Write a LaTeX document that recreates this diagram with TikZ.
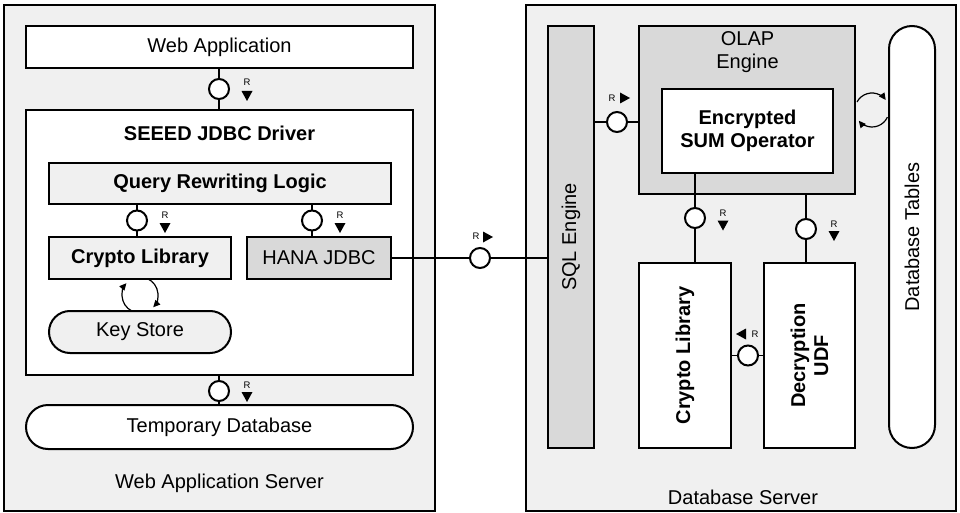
\documentclass[tikz,border=0pt]{standalone}
\usepackage{fontspec}
\setmainfont{Liberation Sans}
\usetikzlibrary{arrows.meta,calc,shapes.misc}
\pgfdeclarelayer{panel}
\pgfdeclarelayer{container}
\pgfdeclarelayer{under}
\pgfsetlayers{panel,container,under,main}
\definecolor{lightg}{HTML}{F0F0F0}
\definecolor{midg}{HTML}{D9D9D9}
\newcommand\mfont{\fontsize{20}{23}\selectfont}
\tikzset{
  box/.style={draw=black, line width=2pt, rectangle, inner sep=0pt, align=center, font=\mfont},
  boldtxt/.style={font=\mfont\bfseries},
  capsule/.style={box, rounded rectangle},
  iface/.style={circle, draw=black, line width=2pt, fill=white, minimum size=20pt, inner sep=0pt},
  conn/.style={line width=1.2pt},
  rlab/.style={font=\fontsize{9.5}{10}\selectfont, inner sep=0pt},
  cyc/.style={line width=1.2pt, -{Triangle[length=7pt,width=6.5pt]}},
  panelbox/.style={draw=black, line width=1.8pt, fill=lightg, inner sep=0pt},
  lbl/.style={font=\mfont, inner sep=0pt, align=center},
  tdown/.pic={\fill (-5.5,5) -- (5.5,5) -- (0,-5) -- cycle;},
  tright/.pic={\fill (-5,5.5) -- (-5,-5.5) -- (5,0) -- cycle;},
  tleft/.pic={\fill (5,5.5) -- (5,-5.5) -- (-5,0) -- cycle;},
}
\begin{document}
\begin{tikzpicture}[x=1pt,y=1pt]
\useasboundingbox (0,0) rectangle (960,-513);
\begin{pgfonlayer}{panel}
  \node[panelbox, minimum width=431pt, minimum height=506pt] (webserver) at (219.5,-258) {};
  \node[panelbox, minimum width=430pt, minimum height=506pt] (dbserver) at (741,-258) {};
\end{pgfonlayer}
\node[lbl] (wsname) at (219.5,-483) {Web Application Server};
\node[lbl] (dsname) at (743,-497) {Database Server};

% left side
\node[box, fill=white, minimum width=387pt, minimum height=42pt] (webapp) at (219.5,-47) {Web Application};
\begin{pgfonlayer}{container}
  \node[box, fill=white, minimum width=387pt, minimum height=265pt] (driver) at (219.5,-242.5) {};
\end{pgfonlayer}
\node[lbl, boldtxt] (drvtitle) at (219.5,-133) {SEEED JDBC Driver};
\node[box, boldtxt, fill=lightg, minimum width=342pt, minimum height=41pt] (qrl) at (220,-183.5) {Query Rewriting Logic};
\node[box, boldtxt, fill=lightg, minimum width=182pt, minimum height=42pt] (cryptoL) at (140,-258) {Crypto Library};
\node[box, fill=midg, minimum width=144pt, minimum height=42pt] (hana) at (319,-258) {HANA JDBC};
\node[capsule, fill=lightg, minimum width=182pt, minimum height=42pt] (keystore) at (140,-332) {Key Store};
\node[capsule, fill=white, minimum width=387pt, minimum height=44pt] (tempdb) at (219.5,-427) {Temporary Database};

% right side
\node[box, fill=midg, rotate=90, minimum width=422pt, minimum height=46pt] (sql) at (571,-237) {SQL Engine};
\node[box, fill=midg, minimum width=216pt, minimum height=168pt] (olap) at (747,-110) {};
\node[lbl] (olaptxt) at (747.5,-52.5) {OLAP\\Engine};
\node[box, boldtxt, fill=white, minimum width=171pt, minimum height=84pt] (esum) at (747.5,-131) {Encrypted\\SUM Operator};
\node[box, boldtxt, fill=white, rotate=90, minimum width=185pt, minimum height=92pt] (cryptoR) at (685,-355.5) {Crypto Library};
\node[box, boldtxt, fill=white, rotate=90, minimum width=185pt, minimum height=91pt] (udf) at (809.5,-355.5) {Decryption\\UDF};
\node[capsule, fill=white, rotate=90, minimum width=422pt, minimum height=46pt] (dbtab) at (912,-237) {Database Tables};

% interface positions
\coordinate (i1) at (219,-89);
\coordinate (i2) at (137,-220.5);
\coordinate (i3) at (312,-220.5);
\coordinate (i4) at (219,-391);
\coordinate (i5) at (480,-258);
\coordinate (i6) at (617,-122);
\coordinate (i7) at (695,-218);
\coordinate (i8) at (806,-229);
\coordinate (i9) at (748,-355.5);

% connectors
\draw[conn] (i1 |- webapp.south) -- (i1 |- driver.north);
\draw[conn] (i2 |- qrl.south) -- (i2 |- cryptoL.north);
\draw[conn] (i3 |- qrl.south) -- (i3 |- hana.north);
\draw[conn] (i4 |- driver.south) -- (i4 |- tempdb.north);
\draw[conn] (hana.east) -- (sql.north |- hana.east);
\draw[conn] (sql.south |- i6) -- (olap.west |- i6);
\draw[conn] (i7 |- esum.south) -- (i7 |- cryptoR.east);
\draw[conn] (i8 |- olap.south) -- (i8 |- udf.east);
\draw[conn] (cryptoR.south) -- (udf.north);

% interface circles
\node[iface] (c1) at (i1) {};
\node[iface] (c2) at (i2) {};
\node[iface] (c3) at (i3) {};
\node[iface] (c4) at (i4) {};
\node[iface] (c5) at (i5) {};
\node[iface] (c6) at (i6) {};
\node[iface] (c7) at (i7) {};
\node[iface] (c8) at (i8) {};
\node[iface] (c9) at (i9) {};

% R labels and direction triangles
\node[rlab] (r1) at (247,-82) {R};   \pic at (247,-96) {tdown};
\node[rlab] (r2) at (165,-215) {R};  \pic at (165,-228) {tdown};
\node[rlab] (r3) at (340,-215) {R};  \pic at (340,-228) {tdown};
\node[rlab] (r4) at (247,-385) {R};  \pic at (247,-397) {tdown};
\node[rlab] (r5) at (476,-236) {R};  \pic at (488,-237) {tright};
\node[rlab] (r6) at (612,-98) {R};   \pic at (625,-98) {tright};
\node[rlab] (r7) at (723,-213) {R};  \pic at (723,-225.5) {tdown};
\node[rlab] (r8) at (834,-224) {R};  \pic at (834,-236) {tdown};
\node[rlab] (r9) at (755,-334) {R};  \pic at (741,-334) {tleft};

% cycles
\begin{pgfonlayer}{under}
  \coordinate (k1) at ($(cryptoL.south)!0.5!(keystore.north)$);
  \draw[cyc] ($(k1)+(243:18)$) arc[start angle=243, end angle=139, radius=18];
  \draw[cyc] ($(k1)+(65:18)$) arc[start angle=65, end angle=-43, radius=18];
  \coordinate (k2) at ($(olap.east)!0.5!(dbtab.north |- olap.east)$);
  \draw[cyc] ($(k2)+(152:17)$) arc[start angle=152, end angle=36, radius=17];
  \draw[cyc] ($(k2)+(-25:17)$) arc[start angle=-25, end angle=-141, radius=17];
\end{pgfonlayer}
\end{tikzpicture}
\end{document}
